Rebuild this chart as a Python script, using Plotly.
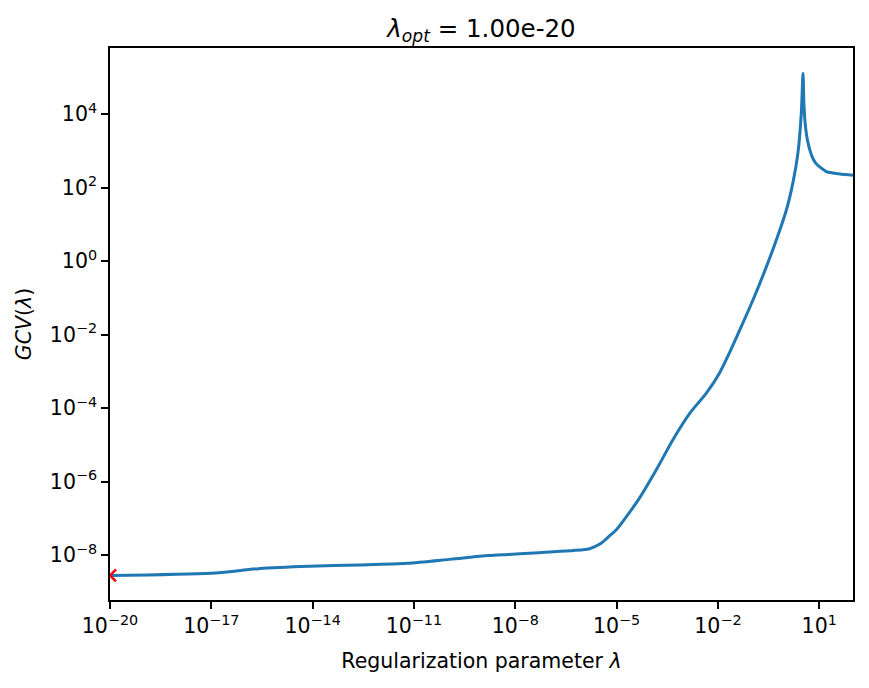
import plotly.graph_objects as go

# Regularization parameter values (x) and GCV values (y)
lam = [1e-20, 1e-17, 2.5e-16, 7.9e-15, 2.5e-13, 6.3e-12, 1.26e-10, 1.6e-9, 6.3e-9,
       5.0e-8, 1.0e-6, 1.6e-6, 3.2e-6, 6.3e-6, 1.0e-5, 2.0e-5, 4.7e-5, 1.5e-4,
       4.7e-4, 1.5e-3, 4.6e-3, 1.12e-2, 2.2e-2, 4.5e-2, 0.11, 0.275, 0.54, 1.07,
       1.66, 2.34, 2.95, 3.31, 3.51, 3.72, 3.98, 4.47, 5.25, 6.6, 8.3, 10.5, 16.2,
       25.0, 40.7, 100]
gcv = [2.8e-9, 3.2e-9, 4.3e-9, 5.0e-9, 5.4e-9, 6.0e-9, 7.8e-9, 9.8e-9, 1.05e-8,
       1.17e-8, 1.4e-8, 1.5e-8, 2.0e-8, 3.4e-8, 5.0e-8, 1.15e-7, 3.5e-7, 2.1e-6,
       1.4e-5, 7.4e-5, 2.6e-4, 9.1e-4, 3.2e-3, 1.38e-2, 8.9e-2, 0.72, 3.8, 25,
       135, 870, 10700, 129000, 19950, 7940, 3980, 1995, 1070, 603, 437, 363, 275,
       251, 234, 219]

lam_opt = [1e-20]
gcv_opt = [2.8e-9]

xtick_vals = [1e-20, 1e-17, 1e-14, 1e-11, 1e-8, 1e-5, 1e-2, 1e1]
xtick_text = ["10<sup>−20</sup>", "10<sup>−17</sup>", "10<sup>−14</sup>", "10<sup>−11</sup>",
              "10<sup>−8</sup>", "10<sup>−5</sup>", "10<sup>−2</sup>", "10<sup>1</sup>"]
ytick_vals = [1e-8, 1e-6, 1e-4, 1e-2, 1e0, 1e2, 1e4]
ytick_text = ["10<sup>−8</sup>", "10<sup>−6</sup>", "10<sup>−4</sup>", "10<sup>−2</sup>",
              "10<sup>0</sup>", "10<sup>2</sup>", "10<sup>4</sup>"]

FONT = "DejaVu Sans"

fig = go.Figure()
fig.add_trace(go.Scatter(x=lam, y=gcv, mode="lines",
                         line=dict(color="#1f77b4", width=3, shape="spline", smoothing=0.7),
                         showlegend=False))
fig.add_trace(go.Scatter(x=lam_opt, y=gcv_opt, mode="markers",
                         marker=dict(symbol="x-thin", size=12, color="red",
                                     line=dict(color="red", width=2.5)),
                         cliponaxis=True, showlegend=False))

axis_common = dict(type="log", showgrid=False, zeroline=False, showline=True,
                   linecolor="#000000", linewidth=1.6, mirror=True,
                   ticks="outside", ticklen=7, tickwidth=1.6, tickcolor="#000000",
                   tickfont=dict(family=FONT, size=20.5, color="#000000"))

fig.update_layout(
    width=869, height=688,
    margin=dict(l=110, r=16, t=48, b=88, autoexpand=False),
    paper_bgcolor="white", plot_bgcolor="white",
    font=dict(family=FONT, color="#000000"),
    title=dict(text="<i>λ</i><sub><i>opt</i></sub> = 1.00e-20",
               font=dict(family=FONT, size=24.5, color="#000000"),
               x=0.5, xref="paper", xanchor="center",
               y=1 - 28 / 688, yref="container", yanchor="middle"),
    xaxis=dict(range=[-20, 2], tickvals=xtick_vals, ticktext=xtick_text,
               title=dict(text="Regularization parameter <i>λ</i>",
                          font=dict(family=FONT, size=20.5, color="#000000"),
                          standoff=16),
               **axis_common),
    yaxis=dict(range=[-9.22, 5.8], tickvals=ytick_vals, ticktext=ytick_text,
               title=dict(text="<i>GCV</i>(<i>λ</i>)",
                          font=dict(family=FONT, size=20.5, color="#000000"),
                          standoff=13),
               **axis_common),
)

fig.write_html("out.html")
